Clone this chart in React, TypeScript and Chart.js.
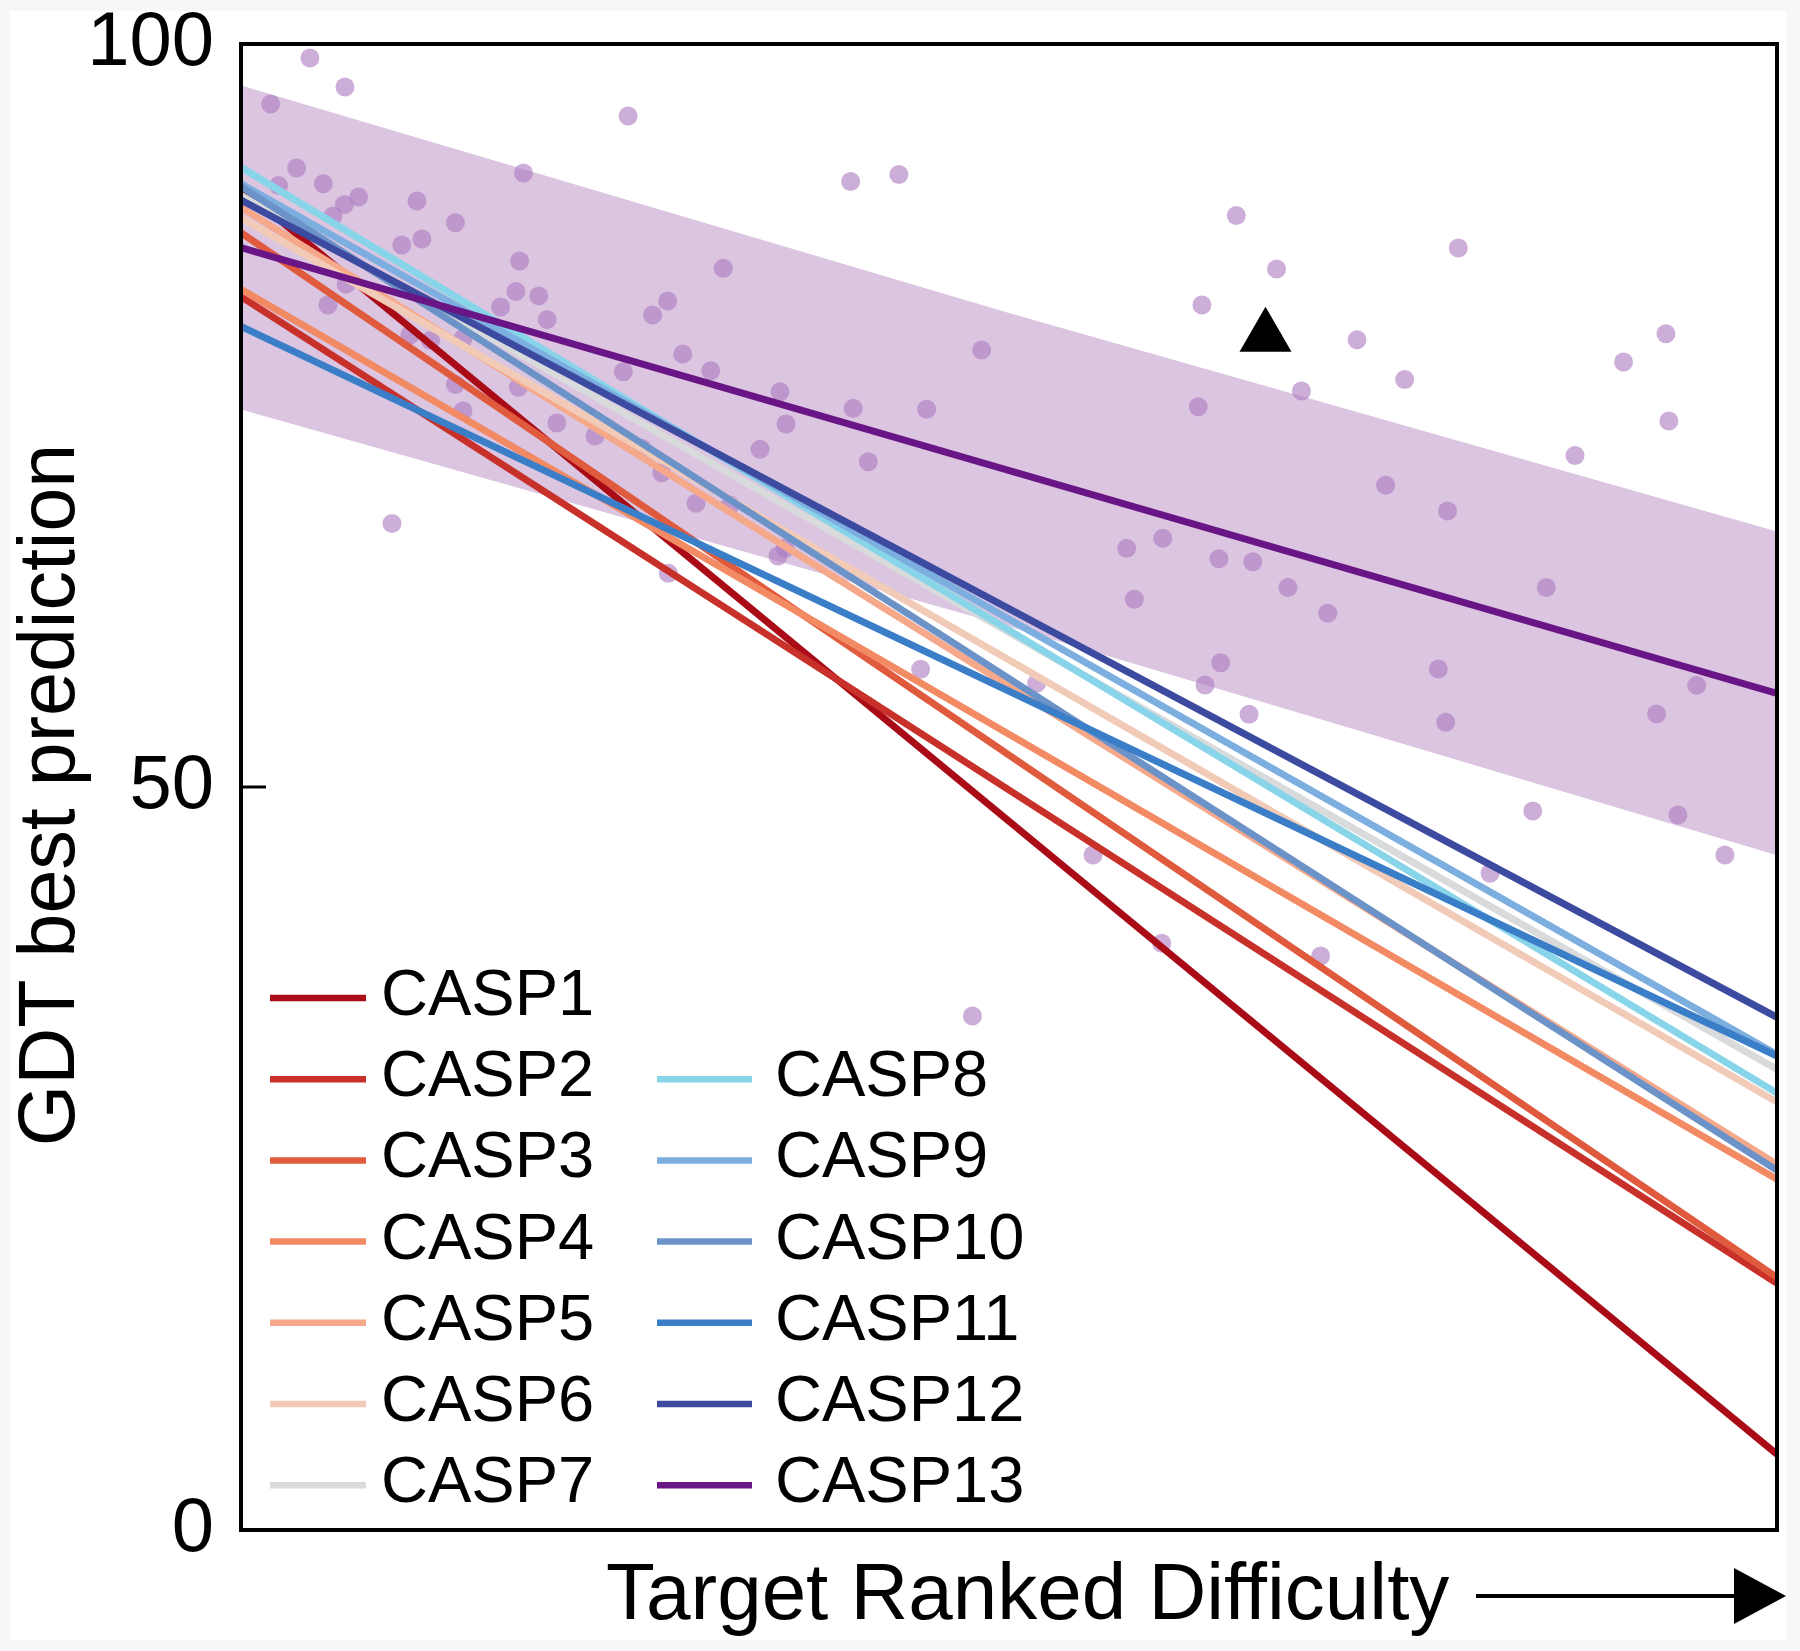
import React, { useEffect, useRef } from 'react';
import { Chart, registerables } from 'chart.js';

Chart.register(...registerables);

const FONT = '"Liberation Sans", Arial, Helvetica, sans-serif';

// ---- data ----
const categories = ['CASP1', 'CASP2', 'CASP3', 'CASP4', 'CASP5', 'CASP6', 'CASP7', 'CASP8', 'CASP9', 'CASP10', 'CASP11', 'CASP12', 'CASP13'];
const lineColors = ['#a90c17', '#c8302a', '#e05a3d', '#f28a64', '#f6a98a', '#f1cbb8', '#d8dadb', '#88d5ea', '#7caee0', '#6c93c8', '#3b7ec8', '#3c4aa0', '#6a1586'];
const lineX = [0, 100];
const lineStart = [90.3, 83.0, 87.3, 83.5, 89.0, 88.3, 89.8, 91.7, 90.6, 90.4, 81.0, 89.5, 86.3];
const lineEnd = [5.1, 16.6, 17.0, 23.6, 24.6, 28.8, 31.0, 29.4, 32.0, 24.2, 31.9, 34.5, 56.3];

const bandX = [0, 50, 100];
const bandUpper = [97.2, 81.9, 67.2];
const bandLower = [75.4, 60.8, 45.4];

const targetX = [
  1.93, 3.62, 5.36, 6.73, 7.66, 11.46, 13.96, 10.47, 11.78, 18.14, 17.9, 19.39, 16.9, 19.93, 18.39, 4.49, 6.77, 6.84, 5.66, 11.0, 12.34, 14.45, 13.96, 14.45, 18.07, 20.56, 23.05, 9.83, 2.45, 5.99,
  25.2, 39.69, 42.83, 31.4, 27.78, 26.8, 28.76, 30.58, 24.89, 26.09, 27.39, 29.62, 31.84, 27.82, 35.09, 35.48, 39.86, 44.64, 33.79, 40.84, 35.42, 34.96, 48.22, 44.25, 51.8,
  62.32, 60.01, 57.66, 58.16, 70.75, 63.78, 62.76, 77.95, 78.43, 65.63, 84.1, 81.32, 59.94, 70.29, 96.61, 64.8, 67.42, 62.56, 72.66, 79.25, 75.76, 69.04, 92.77, 90.01, 92.96, 86.85, 74.52, 78.55, 63.67, 65.87, 68.16, 84.98, 94.77, 92.16, 93.55, 55.47, 47.62,
];
const targetY = [
  95.96, 91.66, 90.6, 89.19, 89.7, 89.43, 87.97, 86.47, 86.88, 85.4, 83.34, 83.05, 82.3, 81.45, 91.32, 99.06, 97.11, 83.85, 82.44, 80.42, 80.04, 80.17, 77.08, 75.3, 76.9, 74.5, 73.62, 67.73, 90.47, 88.43,
  95.15, 90.75, 91.22, 84.91, 82.71, 81.76, 79.14, 78.01, 77.95, 72.79, 71.15, 69.09, 68.98, 64.38, 76.6, 74.43, 75.48, 75.42, 72.73, 71.89, 66.06, 65.55, 79.41, 57.92, 56.98,
  75.59, 66.74, 66.06, 62.63, 61.69, 58.36, 56.86, 57.94, 54.35, 54.89, 48.39, 44.19, 39.48, 38.63, 45.42, 88.46, 84.86, 82.44, 80.09, 86.27, 77.42, 76.65, 80.5, 78.6, 74.63, 72.31, 70.3, 68.57, 65.36, 65.16, 63.43, 63.43, 56.84, 54.91, 48.12, 45.42, 34.59,
];

const markerX = [66.7];
const markerY = [80.3];

const yTickStep = 50;
const yTitle = 'GDT best prediction';
const xTitle = 'Target Ranked Difficulty';

// ---- plugins ----
const backgroundPlugin = {
  id: 'bgFrame',
  beforeDraw(chart: any) {
    const { ctx, width, height } = chart;
    ctx.save();
    ctx.fillStyle = '#f7f7f7';
    ctx.fillRect(0, 0, width, height);
    ctx.fillStyle = '#ffffff';
    ctx.fillRect(10, 11, width - 24, height - 22);
    ctx.restore();
  },
};

const decorPlugin = {
  id: 'decor',
  afterDraw(chart: any) {
    const { ctx, chartArea: a } = chart;
    const yScale = chart.scales.y;
    ctx.save();
    // frame
    ctx.strokeStyle = '#000';
    ctx.lineWidth = 4;
    ctx.strokeRect(a.left, a.top, a.right - a.left, a.bottom - a.top);
    // inner tick at 50
    const y50 = yScale.getPixelForValue(50);
    ctx.lineWidth = 3;
    ctx.beginPath();
    ctx.moveTo(a.left, y50);
    ctx.lineTo(a.left + 25, y50);
    ctx.stroke();

    // y title
    ctx.fillStyle = '#000';
    ctx.save();
    ctx.font = `79px ${FONT}`;
    ctx.translate(74, (a.top + a.bottom) / 2 + 8);
    ctx.rotate(-Math.PI / 2);
    ctx.textAlign = 'center';
    ctx.textBaseline = 'alphabetic';
    ctx.fillText(yTitle, 0, 0);
    ctx.restore();

    // x title
    ctx.font = `80px ${FONT}`;
    ctx.textAlign = 'left';
    ctx.textBaseline = 'alphabetic';
    ctx.fillText(xTitle, 606, a.bottom + 89);

    // arrow
    const ay = a.bottom + 66;
    ctx.lineWidth = 4;
    ctx.beginPath();
    ctx.moveTo(1476, ay);
    ctx.lineTo(1740, ay);
    ctx.stroke();
    ctx.beginPath();
    ctx.moveTo(1734, ay - 28);
    ctx.lineTo(1786, ay);
    ctx.lineTo(1734, ay + 28);
    ctx.closePath();
    ctx.fill();

    // legend
    ctx.font = `65px ${FONT}`;
    ctx.lineWidth = 6.5;
    ctx.lineCap = 'butt';
    categories.forEach((name, i) => {
      const col = i < 7 ? 0 : 1;
      const row = i < 7 ? i : i - 6;
      const y = 998 + row * 81.2;
      const x0 = col ? 657 : 270;
      const x1 = col ? 752 : 366;
      const tx = col ? 775 : 381;
      ctx.strokeStyle = lineColors[i];
      ctx.beginPath();
      ctx.moveTo(x0, y);
      ctx.lineTo(x1, y);
      ctx.stroke();
      ctx.fillStyle = '#000';
      ctx.fillText(name, tx, y + 17);
    });
    ctx.restore();
  },
};

export default function App() {
  const canvasRef = useRef<HTMLCanvasElement | null>(null);

  useEffect(() => {
    if (!canvasRef.current) return;

    const datasets: any[] = [];
    datasets.push({
      label: 'band lower',
      data: bandX.map((x, i) => ({ x, y: bandLower[i] })),
      showLine: true,
      borderWidth: 0,
      borderColor: 'rgba(0,0,0,0)',
      pointRadius: 0,
      fill: false,
      order: 30,
    });
    datasets.push({
      label: 'band upper',
      data: bandX.map((x, i) => ({ x, y: bandUpper[i] })),
      showLine: true,
      borderWidth: 0,
      borderColor: 'rgba(0,0,0,0)',
      backgroundColor: 'rgb(219,197,224)',
      pointRadius: 0,
      fill: '-1',
      order: 29,
    });
    datasets.push({
      label: 'targets',
      data: targetX.map((x, i) => ({ x, y: targetY[i] })),
      pointRadius: 9.5,
      pointBorderWidth: 0,
      pointBackgroundColor: 'rgba(172,124,194,0.62)',
      borderColor: 'rgba(0,0,0,0)',
      order: 20,
    });
    categories.forEach((name, i) => {
      datasets.push({
        label: name,
        data: lineX.map((x, j) => ({ x, y: j === 0 ? lineStart[i] : lineEnd[i] })),
        showLine: true,
        borderColor: lineColors[i],
        borderWidth: 7,
        pointRadius: 0,
        fill: false,
        tension: 0,
        order: 14 - i,
      });
    });
    datasets.push({
      label: 'marker',
      data: markerX.map((x, i) => ({ x, y: markerY[i] })),
      pointStyle: 'triangle',
      pointRadius: 30,
      pointBorderWidth: 0,
      pointBackgroundColor: '#000',
      borderColor: 'rgba(0,0,0,0)',
      order: 0,
    });

    const chart = new Chart(canvasRef.current, {
      type: 'scatter',
      data: { datasets },
      options: {
        animation: false,
        responsive: false,
        devicePixelRatio: 1,
        layout: { autoPadding: false, padding: { left: 8, top: 44, right: 23, bottom: 121 } },
        plugins: { legend: { display: false }, tooltip: { enabled: false } },
        scales: {
          x: { type: 'linear', min: 0, max: 100, display: false },
          y: {
            type: 'linear',
            min: 0,
            max: 100,
            afterFit: (s: any) => {
              s.width = 233;
              s.paddingTop = 0;
              s.paddingBottom = 0;
            },
            grid: { display: false },
            border: { display: false },
            ticks: {
              stepSize: yTickStep,
              padding: 19,
              color: '#000',
              font: { family: FONT, size: 76, lineHeight: 1 },
            },
          },
        },
      } as any,
      plugins: [backgroundPlugin, decorPlugin],
    });
    return () => chart.destroy();
  }, []);

  return (
    <div style={{ position: 'absolute', left: 0, top: 0, width: 1800, height: 1651 }}>
      <canvas ref={canvasRef} width={1800} height={1651} style={{ display: 'block' }} />
    </div>
  );
}
